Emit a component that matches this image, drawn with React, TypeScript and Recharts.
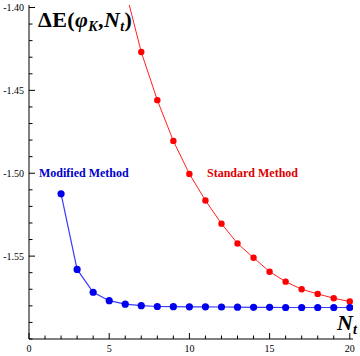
import React from "react";
import { LineChart, Line, XAxis, YAxis, Customized } from "recharts";

const modifiedX = [2, 3, 4, 5, 6, 7, 8, 9, 10, 11, 12, 13, 14, 15, 16, 17, 18, 19, 20];
const modifiedY = [-1.5124, -1.558, -1.5718, -1.5769, -1.579, -1.5799, -1.5804, -1.5805, -1.5806, -1.5806, -1.5807, -1.5808, -1.5809, -1.5809, -1.581, -1.581, -1.581, -1.581, -1.581];
const standardX = [6, 7, 8, 9, 10, 11, 12, 13, 14, 15, 16, 17, 18, 19, 20];
const standardY = [-1.389, -1.4269, -1.4559, -1.4805, -1.5004, -1.5164, -1.5304, -1.5424, -1.551, -1.5594, -1.5654, -1.57, -1.5728, -1.5754, -1.5774];

const xTicks = [0, 1, 2, 3, 4, 5, 6, 7, 8, 9, 10, 11, 12, 13, 14, 15, 16, 17, 18, 19, 20];
const xLabels = [0, 5, 10, 15, 20];
const yTicks = [-1.6, -1.59, -1.58, -1.57, -1.56, -1.55, -1.54, -1.53, -1.52, -1.51, -1.5, -1.49, -1.48, -1.47, -1.46, -1.45, -1.44, -1.43, -1.42, -1.41, -1.4];
const yLabels = [-1.55, -1.5, -1.45, -1.4];

const modifiedData = modifiedX.map((x, i) => ({ x, y: modifiedY[i] }));
const standardData = standardX.map((x, i) => ({ x, y: standardY[i] }));

const FONT = "'Liberation Serif', 'Times New Roman', serif";

const isLabel = (v: number, arr: number[]) => arr.some((a) => Math.abs(a - v) < 1e-6);

const XTick = (props: any) => {
  const { x, y, payload } = props;
  const major = isLabel(payload.value, xLabels);
  return (
    <g>
      <line x1={x} x2={x} y1={y} y2={y - (major ? 6 : 3.5)} stroke="#000" strokeWidth={1} />
      {major ? (
        <text x={x} y={y + 13} textAnchor="middle" fontSize={10} fontFamily={FONT} fill="#000">
          {payload.value}
        </text>
      ) : null}
    </g>
  );
};

const YTick = (props: any) => {
  const { x, y, payload } = props;
  const major = isLabel(payload.value, yLabels);
  return (
    <g>
      <line x1={x} x2={x + (major ? 6 : 3.5)} y1={y} y2={y} stroke="#000" strokeWidth={1} />
      {major ? (
        <text x={x - 5} y={y + 3.5} textAnchor="end" fontSize={10} fontFamily={FONT} fill="#000">
          {payload.value.toFixed(2)}
        </text>
      ) : null}
    </g>
  );
};

const Annotations = () => (
  <g fontFamily={FONT} fontWeight="bold">
    <text x={38} y={27} fontSize={22} letterSpacing={0.4} fill="#000">
      ΔE(
      <tspan fontStyle="italic">φ</tspan>
      <tspan fontStyle="italic" fontSize={14} dy={4}>K</tspan>
      <tspan dy={-4}>,</tspan>
      <tspan fontStyle="italic">N</tspan>
      <tspan fontStyle="italic" fontSize={14} dy={4}>t</tspan>
      <tspan dy={-4}>)</tspan>
    </text>
    <text x={337} y={330} fontSize={22} fill="#000">
      <tspan fontStyle="italic">N</tspan>
      <tspan fontStyle="italic" fontSize={14} dy={4}>t</tspan>
    </text>
    <text x={39} y={177} fontSize={12} fill="#0000cc">Modified Method</text>
    <text x={207} y={177} fontSize={12} fill="#dd0000">Standard Method</text>
  </g>
);

export default function App() {
  return (
    <div style={{ position: "absolute", left: 0, top: 0, background: "#fff" }}>
      <LineChart width={360} height={356} margin={{ top: 5, right: 7, left: 0, bottom: 0 }}>
        <XAxis
          type="number"
          dataKey="x"
          domain={[0, 20.2]}
          ticks={xTicks}
          interval={0}
          tickSize={0}
          tickMargin={0}
          tickLine={false}
          tick={<XTick />}
          height={17}
          stroke="#000"
          allowDataOverflow
        />
        <YAxis
          type="number"
          dataKey="y"
          domain={[-1.6, -1.3985]}
          ticks={yTicks}
          interval={0}
          tickSize={0}
          tickMargin={0}
          tickLine={false}
          tick={<YTick />}
          width={29}
          stroke="#000"
          allowDataOverflow
        />
        <Line
          data={standardData}
          dataKey="y"
          stroke="#ff2020"
          strokeWidth={1}
          dot={{ r: 3.2, fill: "#ff0000", stroke: "none" }}
          isAnimationActive={false}
        />
        <Line
          data={modifiedData}
          dataKey="y"
          stroke="#3a3aff"
          strokeWidth={1.2}
          dot={{ r: 3.6, fill: "#0000ee", stroke: "none" }}
          isAnimationActive={false}
        />
        <Customized component={Annotations} />
      </LineChart>
    </div>
  );
}
